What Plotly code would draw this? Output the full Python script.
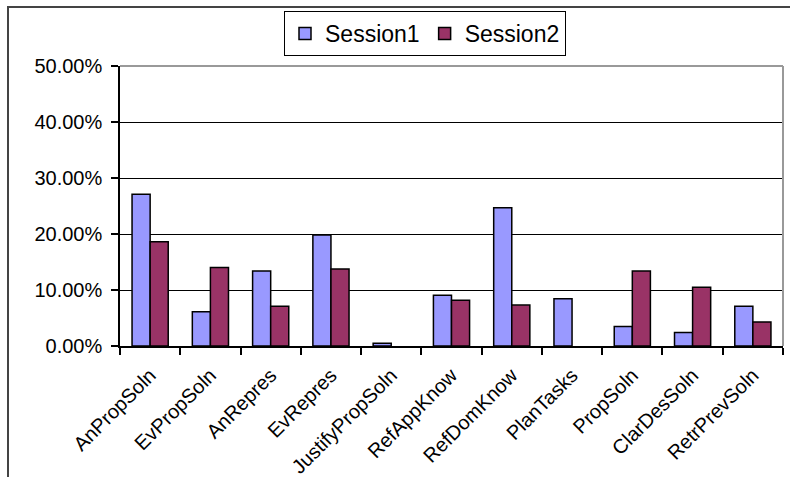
import plotly.graph_objects as go

categories = ["AnPropSoln", "EvPropSoln", "AnRepres", "EvRepres", "JustifyPropSoln",
              "RefAppKnow", "RefDomKnow", "PlanTasks", "PropSoln", "ClarDesSoln", "RetrPrevSoln"]
session1 = [0.271, 0.061, 0.134, 0.198, 0.005, 0.0905, 0.247, 0.0845, 0.035, 0.024, 0.071]
session2 = [0.186, 0.140, 0.071, 0.1375, 0.0, 0.0815, 0.073, 0.0, 0.134, 0.105, 0.043]
y_ticks = [0, 0.1, 0.2, 0.3, 0.4, 0.5]

FONT = "Liberation Sans, Arial, sans-serif"


def outline(values):
    # empty bars get no outline
    return [1.5 if v > 0 else 0 for v in values]


fig = go.Figure()
fig.add_trace(go.Bar(name="Session1", x=categories, y=session1,
                     marker=dict(color="#9999FF",
                                 line=dict(color="#000000", width=outline(session1)))))
fig.add_trace(go.Bar(name="Session2", x=categories, y=session2,
                     marker=dict(color="#993366",
                                 line=dict(color="#000000", width=outline(session2)))))

# margins place the plot area at x 120..783, y 66..346 px
L, R, T, B = 120, 7, 66, 131
W, H = 790, 477
pw, ph = W - L - R, H - T - B


def px(x):
    return (x - L) / pw


def py(y):
    return (H - B - y) / ph


fig.update_layout(
    width=W, height=H,
    margin=dict(l=L, r=R, t=T, b=B),
    paper_bgcolor="white", plot_bgcolor="white",
    barmode="group", bargap=0.4, bargroupgap=0,
    font=dict(family=FONT, color="#000000", size=18),
    showlegend=True,
    legend=dict(orientation="h", x=px(425), xanchor="center", y=py(11), yanchor="top",
                bordercolor="#000000", borderwidth=1, bgcolor="white",
                font=dict(size=23, family=FONT), itemwidth=30,
                traceorder="normal"),
    xaxis=dict(type="category", showline=True, linecolor="#000000", linewidth=1.5,
               ticks="outside", ticklen=7, tickcolor="#000000", tickwidth=1.5,
               tickson="boundaries", tickangle=-45, showgrid=False,
               ticklabelstandoff=8, automargin=False,
               tickfont=dict(size=20, family=FONT)),
    yaxis=dict(range=[0, 0.5], tickvals=y_ticks, tickformat=".2%",
               showline=True, linecolor="#000000", linewidth=1.5,
               ticks="outside", ticklen=7, tickcolor="#000000", tickwidth=1.5,
               showgrid=True, gridcolor="#000000", gridwidth=1.2, zeroline=False,
               ticklabelstandoff=5, automargin=False,
               tickfont=dict(size=20, family=FONT)),
    shapes=[
        # plot area border (top and right)
        dict(type="line", xref="paper", yref="paper", x0=0, x1=1, y0=1, y1=1,
             line=dict(color="#999999", width=2), layer="above"),
        dict(type="line", xref="paper", yref="paper", x0=1, x1=1, y0=0, y1=1,
             line=dict(color="#999999", width=2), layer="above"),
        # chart area border
        dict(type="path", xref="paper", yref="paper",
             path=f"M {px(8)} {py(480)} L {px(8)} {py(7)} L {px(792)} {py(7)}",
             line=dict(color="#444444", width=2)),
    ],
)

fig.write_html("out.html")
